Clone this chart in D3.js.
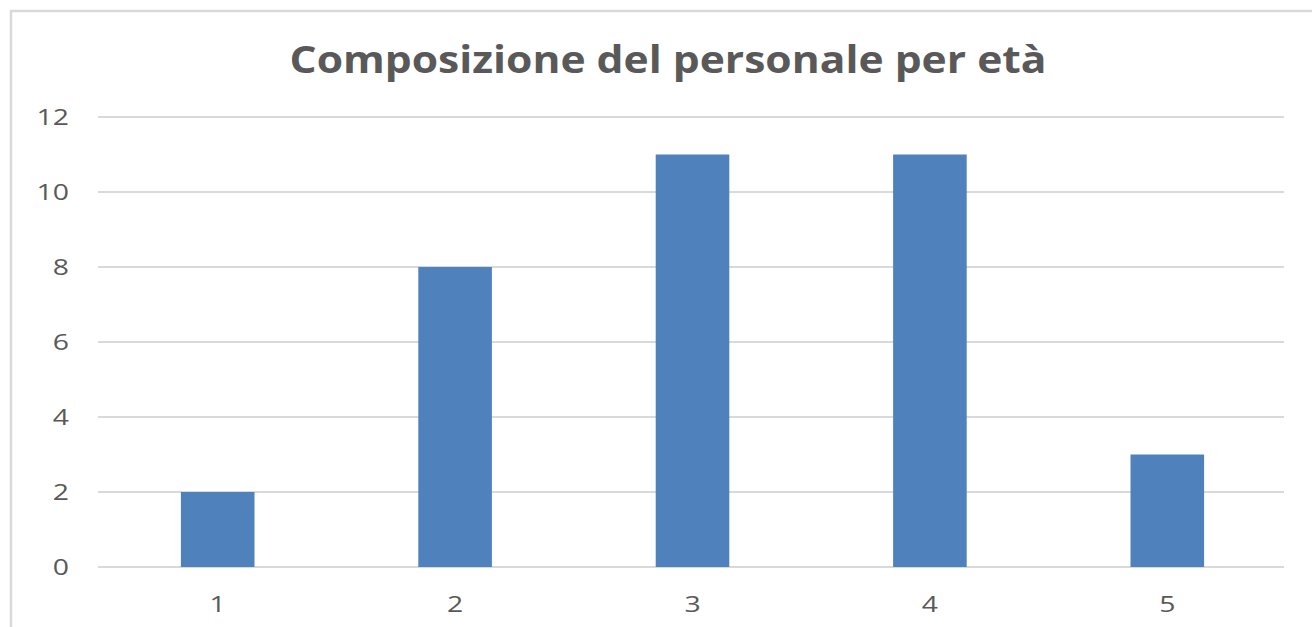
<!DOCTYPE html>
<html>
<head>
<meta charset="utf-8">
<script src="https://cdn.jsdelivr.net/npm/d3@7"></script>
<style>
  body { margin: 0; background: #fff; }
  text { font-family: "Open Sans", "Liberation Sans", sans-serif; fill: #595959; }
</style>
</head>
<body>
<div id="chart"></div>
<script>
// data
const categories = ["1", "2", "3", "4", "5"];
const values = [2, 8, 11, 11, 3];
const yTicks = [0, 2, 4, 6, 8, 10, 12];
const title = "Composizione del personale per età";

const W = 1312, H = 627;
const margin = {left: 98, right: 28, top: 117, bottom: 60};

const svg = d3.select("#chart").append("svg")
    .attr("width", W)
    .attr("height", H);

// outer chart border (only top and left are in frame)
svg.append("rect")
    .attr("x", 11).attr("y", 11)
    .attr("width", W + 20).attr("height", H + 20)
    .attr("fill", "none")
    .attr("stroke", "#d9d9d9")
    .attr("stroke-width", 2.5);

const x = d3.scaleBand()
    .domain(categories)
    .range([margin.left + 1, W - margin.right + 2])
    .paddingInner(0.69)
    .paddingOuter(0.345);

const y = d3.scaleLinear()
    .domain([0, 12])
    .range([H - margin.bottom, margin.top]);

// gridlines
svg.append("g")
    .selectAll("line")
    .data(yTicks)
    .enter()
    .append("line")
    .attr("x1", margin.left)
    .attr("x2", W - margin.right)
    .attr("y1", d => y(d))
    .attr("y2", d => y(d))
    .attr("stroke", "#d9d9d9")
    .attr("stroke-width", 2);

// y labels (the picture is stretched sideways, so widen the digits)
svg.append("g")
    .selectAll("text")
    .data(yTicks)
    .enter()
    .append("text")
    .attr("transform", d => `translate(69,${y(d)}) scale(1.35,1)`)
    .attr("dy", "0.36em")
    .attr("text-anchor", "end")
    .attr("font-size", 21)
    .text(d => d);

// bars
svg.append("g")
    .selectAll("rect")
    .data(values)
    .enter()
    .append("rect")
    .attr("x", (d, i) => x(categories[i]))
    .attr("width", x.bandwidth())
    .attr("y", d => y(d))
    .attr("height", d => y(0) - y(d))
    .attr("fill", "#4f81bd");

// x labels
svg.append("g")
    .selectAll("text")
    .data(categories)
    .enter()
    .append("text")
    .attr("transform", d => `translate(${x(d) + x.bandwidth() / 2},604) scale(1.35,1)`)
    .attr("dy", "0.36em")
    .attr("text-anchor", "middle")
    .attr("font-size", 21)
    .text(d => d);

// title
svg.append("text")
    .attr("x", 668)
    .attr("y", 73)
    .attr("text-anchor", "middle")
    .attr("font-size", 37)
    .attr("font-weight", "bold")
    .attr("textLength", 757)
    .attr("lengthAdjust", "spacingAndGlyphs")
    .text(title);
</script>
</body>
</html>
